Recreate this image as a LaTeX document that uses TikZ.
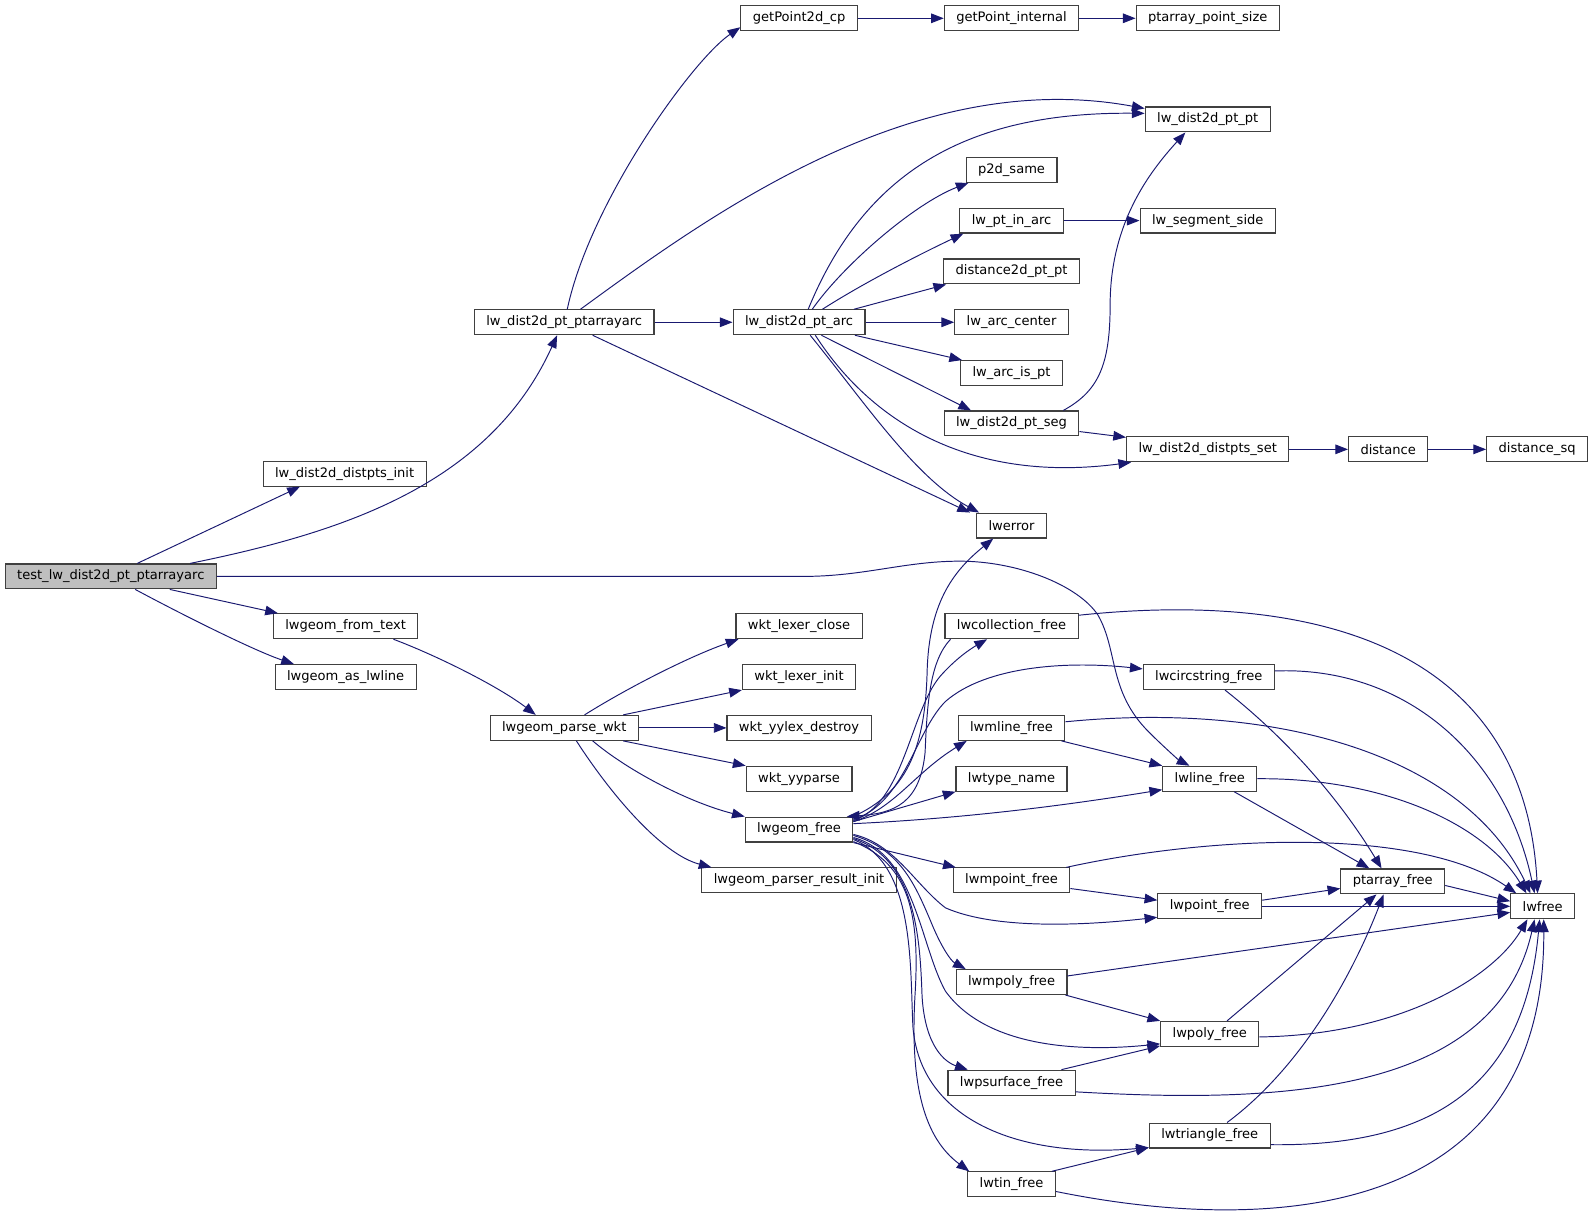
\documentclass[tikz,border=0pt]{standalone}
\usepackage{fontspec}
\setmainfont{DejaVu Sans}
\usetikzlibrary{%
    arrows.meta,
    calc
}

\definecolor{edgeblue}{HTML}{191970}
\definecolor{boxline}{HTML}{404040}
\definecolor{rootfill}{HTML}{BFBFBF}

\tikzset{
    fn/.style={draw=boxline, line width=1.1pt, fill=white,
               minimum height=24.5pt, inner xsep=11.75pt, inner ysep=0pt,
               font=\fontsize{12.85}{15}\selectfont},
    rootfn/.style={fn, fill=rootfill},
    call/.style={draw=edgeblue, line width=0.95pt,
                 -{Triangle[length=12.5pt,width=9.5pt]}}
}

\begin{document}
\begin{tikzpicture}[x=1pt, y=-1pt]
    \useasboundingbox (0,0) rectangle (1566,1193);

    % functions
    \node[rootfn] (test)       at (109,567)   {test\_lw\_dist2d\_pt\_ptarrayarc};
    \node[fn]     (init)       at (339,466)   {lw\_dist2d\_distpts\_init};
    \node[fn]     (ptarc)      at (555,317)   {lw\_dist2d\_pt\_ptarrayarc};
    \node[fn]     (fromtext)   at (340,616)   {lwgeom\_from\_text};
    \node[fn]     (aslwline)   at (340,666)   {lwgeom\_as\_lwline};
    \node[fn]     (parse)      at (555,716)   {lwgeom\_parse\_wkt};
    \node[fn]     (gp2d)       at (786,18)    {getPoint2d\_cp};
    \node[fn]     (gpint)      at (995,18)    {getPoint\_internal};
    \node[fn]     (ptsize)     at (1188,18)   {ptarray\_point\_size};
    \node[fn]     (ptpt)       at (1188,117.5){lw\_dist2d\_pt\_pt};
    \node[fn]     (p2d)        at (995,167)   {p2d\_same};
    \node[fn]     (inarc)      at (995,217)   {lw\_pt\_in\_arc};
    \node[fn]     (segside)    at (1188,217)  {lw\_segment\_side};
    \node[fn]     (d2d)        at (995,267)   {distance2d\_pt\_pt};
    \node[fn]     (arc)        at (786,317)   {lw\_dist2d\_pt\_arc};
    \node[fn]     (center)     at (995,317)   {lw\_arc\_center};
    \node[fn]     (arcispt)    at (995,367)   {lw\_arc\_is\_pt};
    \node[fn]     (ptseg)      at (995,416.5) {lw\_dist2d\_pt\_seg};
    \node[fn]     (setpts)     at (1188,442)  {lw\_dist2d\_distpts\_set};
    \node[fn]     (distance)   at (1365.5,442){distance};
    \node[fn]     (distsq)     at (1512,442)  {distance\_sq};
    \node[fn]     (lwerror)    at (995,517)   {lwerror};
    \node[fn]     (lexclose)   at (786,616)   {wkt\_lexer\_close};
    \node[fn]     (lexinit)    at (786,666)   {wkt\_lexer\_init};
    \node[fn]     (yylexd)     at (786,716)   {wkt\_yylex\_destroy};
    \node[fn]     (yyparse)    at (786,766)   {wkt\_yyparse};
    \node[fn]     (lwgfree)    at (786,816)   {lwgeom\_free};
    \node[fn]     (resinit)    at (786,866)   {lwgeom\_parser\_result\_init};
    \node[fn]     (collfree)   at (995,616)   {lwcollection\_free};
    \node[fn]     (circfree)   at (1189,666)  {lwcircstring\_free};
    \node[fn]     (mlinefree)  at (995,716)   {lwmline\_free};
    \node[fn]     (typename)   at (995,766)   {lwtype\_name};
    \node[fn]     (linefree)   at (1190,766)  {lwline\_free};
    \node[fn]     (mpointfree) at (995,866)   {lwmpoint\_free};
    \node[fn]     (pointfree)  at (1190,891.5){lwpoint\_free};
    \node[fn]     (pafree)     at (1370,867)  {ptarray\_free};
    \node[fn]     (lwfree)     at (1517.5,891.5){lwfree};
    \node[fn]     (mpolyfree)  at (995,966)   {lwmpoly\_free};
    \node[fn]     (polyfree)   at (1190,1017) {lwpoly\_free};
    \node[fn]     (psurffree)  at (995,1065)  {lwpsurface\_free};
    \node[fn]     (trifree)    at (1190,1117) {lwtriangle\_free};
    \node[fn]     (tinfree)    at (995,1165)  {lwtin\_free};

    % straight calls
    \foreach \Source/\Target in {%
        ptarc/arc,
        gp2d/gpint,
        gpint/ptsize,
        arc/center,
        inarc/segside,
        setpts/distance,
        distance/distsq,
        parse/yylexd,
        pointfree/lwfree%
        }
        \draw[call] (\Source) -- (\Target);

    % test_lw_dist2d_pt_ptarrayarc
    \draw[call] ([xshift=26]test.north) -- ([xshift=-44]init.south);
    \draw[call] ([xshift=78]test.north) .. controls (330,525) and (480,480) .. ([xshift=-7]ptarc.south);
    \draw[call] (test.east) -- (790,567) .. controls (850,567) and (890,552) .. (944,552)
        .. controls (1000,552) and (1060,575) .. (1080,605)
        .. controls (1100,640) and (1090,680) .. (1130,720)
        .. controls (1145,735) and (1160,748) .. ([xshift=-20]linefree.north);
    \draw[call] ([xshift=58]test.south) -- ([xshift=5]fromtext.north west);
    \draw[call] ([xshift=24]test.south) .. controls (180,605) and (250,640) .. ([xshift=19]aslwline.north west);

    % lw_dist2d_pt_ptarrayarc
    \draw[call] ([xshift=3]ptarc.north) .. controls (580,200) and (680,60) .. ([yshift=4]gp2d.south west);
    \draw[call] ([xshift=16]ptarc.north) .. controls (700,210) and (900,65) .. ([yshift=-2]ptpt.north west);
    \draw[call] ([xshift=28]ptarc.south) -- ([xshift=-6]lwerror.north west);

    % lw_dist2d_pt_arc
    \draw[call] ([xshift=9]arc.north) .. controls (850,170) and (950,110) .. ([yshift=6]ptpt.west);
    \draw[call] ([xshift=13]arc.north) .. controls (830,260) and (900,200) .. ([xshift=3]p2d.south west);
    \draw[call] ([xshift=23]arc.north) .. controls (850,278) and (905,250) .. ([xshift=4]inarc.south west);
    \draw[call] ([xshift=54]arc.north) -- ([xshift=3]d2d.south west);
    \draw[call] ([xshift=55]arc.south) -- ([xshift=2]arcispt.north west);
    \draw[call] ([xshift=22]arc.south) -- ([xshift=27]ptseg.north west);
    \draw[call] ([xshift=16]arc.south) .. controls (860,420) and (960,475) .. ([xshift=5]setpts.south west);
    \draw[call] ([xshift=11]arc.south) .. controls (850,395) and (900,470) .. ([xshift=3]lwerror.north west);

    % lw_dist2d_pt_seg
    \draw[call] ([xshift=51]ptseg.north) .. controls (1080,385) and (1092,360) .. (1092,300)
        .. controls (1092,220) and (1130,170) .. ([xshift=-22]ptpt.south);
    \draw[call] ([yshift=-8]ptseg.east) -- ([yshift=-1]setpts.north west);

    % lwgeom_parse_wkt
    \draw[call] ([xshift=47]fromtext.south) .. controls (430,645) and (490,675) .. ([xshift=-28]parse.north);
    \draw[call] ([xshift=20]parse.north) .. controls (620,675) and (680,645) .. ([xshift=3]lexclose.south west);
    \draw[call] ([xshift=58]parse.north) -- (lexinit.south west);
    \draw[call] ([xshift=58]parse.south) -- (yyparse.north west);
    \draw[call] ([xshift=28]parse.south) .. controls (620,760) and (680,790) .. (lwgfree.north west);
    \draw[call] ([xshift=12]parse.south) .. controls (600,780) and (650,840) .. ([xshift=10]resinit.north west);

    % lwgeom_free, upwards
    \draw[call] (lwgfree.north east) .. controls (890,780) and (910,740) .. (912,660)
        .. controls (914,590) and (940,560) .. ([xshift=-18]lwerror.south);
    \draw[call] ([yshift=-4]lwgfree.north east) .. controls (890,790) and (895,700) .. (925,665)
        .. controls (940,648) and (955,638) .. ([xshift=-24]collfree.south);
    \draw[call] ([xshift=-60]collfree.south) .. controls (915,650) and (912,690) .. (910,740)
        .. controls (905,790) and (880,800) .. ([xshift=47]lwgfree.north);
    \draw[call] ([yshift=-3]lwgfree.north east) .. controls (890,790) and (900,720) .. (930,690)
        .. controls (970,655) and (1050,650) .. ([yshift=8]circfree.west);
    \draw[call] ([yshift=-5]lwgfree.north east) .. controls (880,795) and (900,760) .. ([xshift=9]mlinefree.south west);
    \draw[call] ([yshift=-5]lwgfree.north east) -- (typename.south west);
    \draw[call] ([yshift=-7]lwgfree.north east) .. controls (950,805) and (1050,792) .. ([yshift=2]linefree.south west);

    % lwgeom_free, downwards
    \draw[call] (lwgfree.south east) -- ([xshift=3]mpointfree.north west);
    \draw[call] ([yshift=8]lwgfree.south east) .. controls (880,830) and (900,870) .. (930,893)
        .. controls (980,915) and (1070,910) .. ([yshift=2]pointfree.south west);
    \draw[call] ([yshift=7]lwgfree.south east) .. controls (885,835) and (900,870) .. (915,905)
        .. controls (925,930) and (935,945) .. ([xshift=10]mpolyfree.north west);
    \draw[call] ([yshift=5]lwgfree.south east) .. controls (900,840) and (905,930) .. (930,975)
        .. controls (970,1030) and (1060,1035) .. ([yshift=3]polyfree.south west);
    \draw[call] ([yshift=4]lwgfree.south east) .. controls (900,845) and (905,920) .. (907,980)
        .. controls (910,1030) and (930,1045) .. ([xshift=20]psurffree.north west);
    \draw[call] ([yshift=3]lwgfree.south east) .. controls (900,850) and (895,950) .. (898,1010)
        .. controls (905,1100) and (1000,1140) .. ([yshift=1]trifree.south west);
    \draw[call] ([yshift=1]lwgfree.south east) .. controls (895,850) and (905,900) .. (900,980)
        .. controls (895,1070) and (910,1120) .. ([xshift=2]tinfree.north west);

    % the free functions
    \draw[call] ([yshift=-2]collfree.north east) .. controls (1300,580) and (1500,640) .. ([xshift=-5]lwfree.north);
    \draw[call] ([yshift=6]circfree.east) .. controls (1380,655) and (1480,740) .. ([xshift=-8]lwfree.north);
    \draw[call] ([xshift=16]circfree.south) .. controls (1270,730) and (1320,790) .. ([xshift=-11]pafree.north);
    \draw[call] ([yshift=6]mlinefree.east) .. controls (1250,690) and (1440,740) .. ([xshift=-12]lwfree.north);
    \draw[call] ([xshift=-4]mlinefree.south east) -- (linefree.north west);
    \draw[call] (linefree.east) .. controls (1360,765) and (1460,810) .. ([xshift=-16]lwfree.north);
    \draw[call] ([xshift=24]linefree.south) -- ([xshift=-23]pafree.north);
    \draw[call] ([xshift=-4]mpointfree.north east) .. controls (1200,820) and (1400,815) .. ([xshift=6]lwfree.north west);
    \draw[call] ([yshift=-8]mpointfree.east) -- ([yshift=6]pointfree.west);
    \draw[call] ([yshift=6]pointfree.east) -- ([yshift=-7]pafree.west);
    \draw[call] ([yshift=-4]pafree.east) -- ([yshift=5]lwfree.west);
    \draw[call] ([yshift=6]mpolyfree.east) -- ([yshift=-6]lwfree.west);
    \draw[call] ([xshift=-2]mpolyfree.south east) -- (polyfree.north west);
    \draw[call] ([xshift=17]polyfree.north) -- ([xshift=-16]pafree.south);
    \draw[call] ([yshift=-3]polyfree.east) .. controls (1380,1018) and (1470,960) .. ([xshift=-15]lwfree.south);
    \draw[call] ([xshift=-14]psurffree.north east) -- ([yshift=1]polyfree.south west);
    \draw[call] ([yshift=-9]psurffree.east) .. controls (1250,1085) and (1470,1080) .. ([xshift=-8]lwfree.south);
    \draw[call] ([xshift=17]trifree.north) .. controls (1280,1050) and (1330,960) .. ([xshift=-9]pafree.south);
    \draw[call] ([yshift=-9]trifree.east) .. controls (1420,1128) and (1500,1060) .. ([xshift=-3]lwfree.south);
    \draw[call] ([xshift=-4]tinfree.north east) -- ([yshift=1]trifree.south west);
    \draw[call] ([yshift=-7]tinfree.east) .. controls (1250,1215) and (1520,1200) .. ([xshift=1]lwfree.south);
\end{tikzpicture}
\end{document}
